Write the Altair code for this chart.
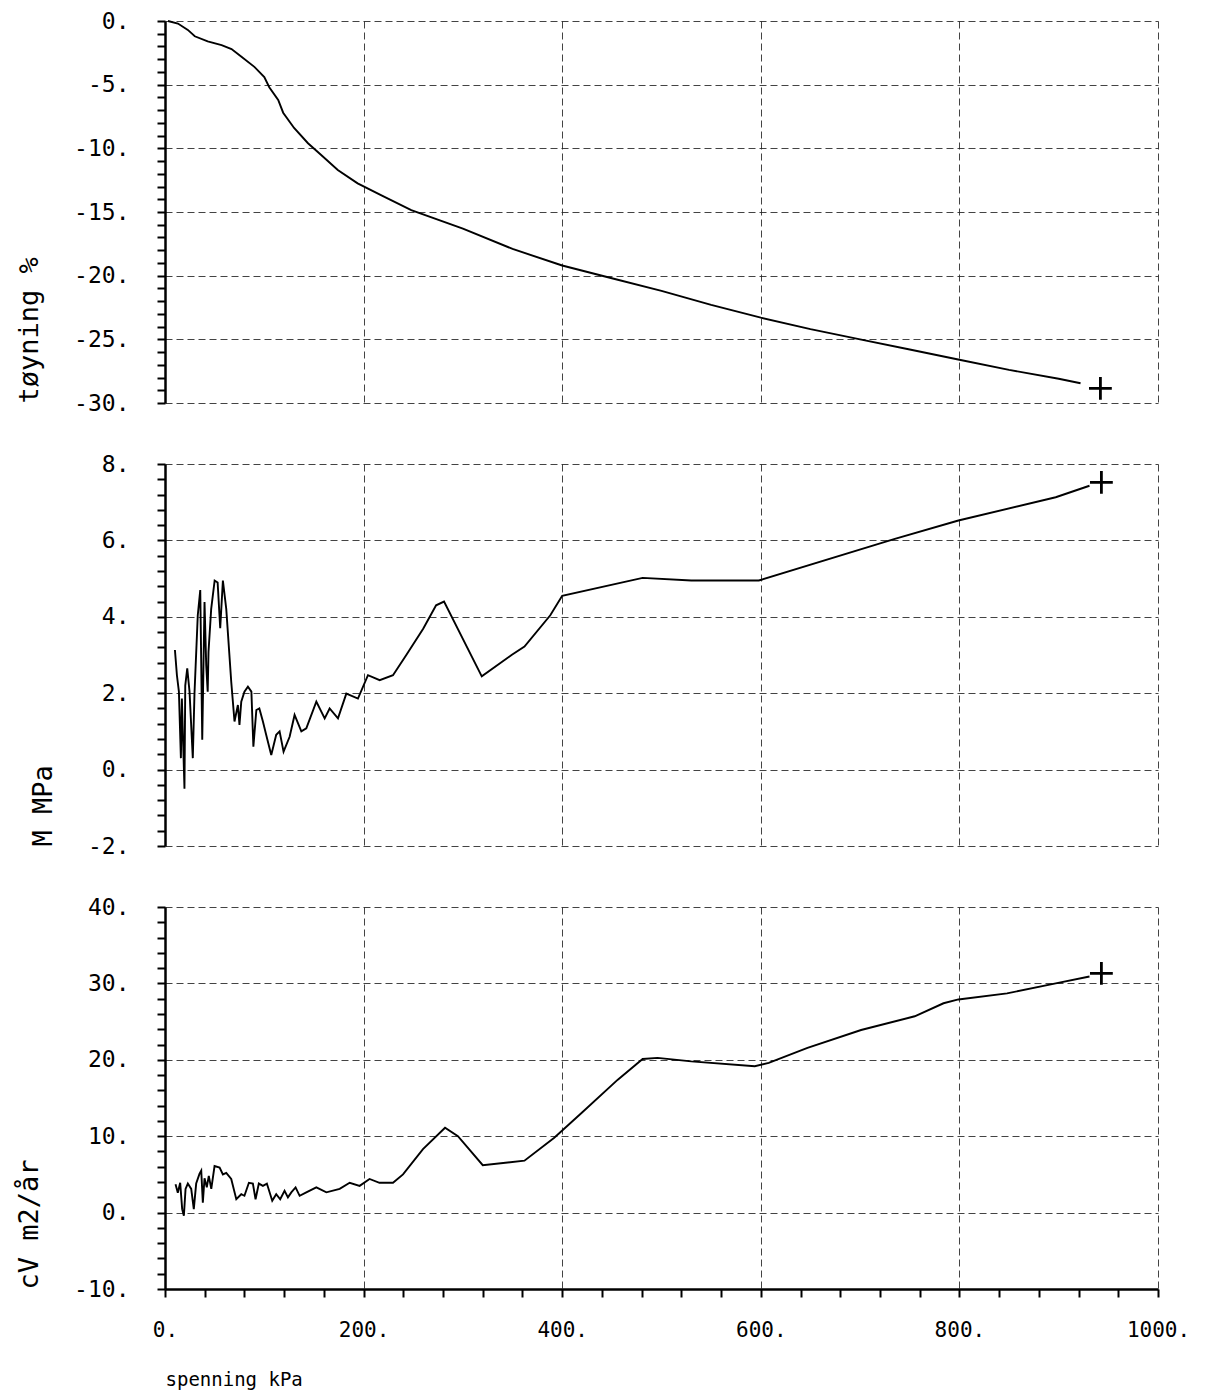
import altair as alt
import pandas as pd

# ---------------- data ----------------
strain_x = [3, 13, 23, 30, 43, 57, 67, 77, 90, 100, 105, 114, 119, 130, 144, 157, 174,
            194, 218, 248, 300, 350, 400, 450, 500, 550, 600, 650, 700, 750, 800, 850,
            900, 922]
strain_y = [0, -0.2, -0.7, -1.2, -1.6, -1.9, -2.2, -2.8, -3.6, -4.4, -5.2, -6.2, -7.2,
            -8.4, -9.6, -10.5, -11.7, -12.75, -13.7, -14.85, -16.3, -17.9, -19.2, -20.2,
            -21.2, -22.3, -23.3, -24.2, -25.0, -25.8, -26.6, -27.4, -28.1, -28.45]

m_x = [10, 12, 14, 16, 17, 19.6, 20.4, 22.4, 24.7, 28, 29.7, 33, 35.5, 37.5, 39.8, 41.5,
       43, 43.8, 46.5, 50, 53, 55.6, 58.3, 61.7, 66.7, 70, 73.4, 75, 76.8, 80, 83.5, 87,
       89, 92, 95, 98.6, 102, 107, 112, 115.4, 119.4, 125.5, 130.5, 137.3, 142.3, 152.4,
       160.8, 165.8, 174.2, 182.6, 194.3, 204.4, 216.2, 229.6, 243, 260, 273, 281, 319,
       349, 362, 388, 400, 481, 530, 598, 735, 799, 897, 931]
m_y = [3.13, 2.47, 2.04, 0.3, 1.86, -0.5, 2.2, 2.65, 2.04, 0.3, 2.0, 4.04, 4.7, 0.78,
       4.39, 2.73, 2.04, 3.08, 4.2, 4.95, 4.9, 3.7, 4.95, 4.2, 2.3, 1.26, 1.69, 1.17, 1.78,
       2.04, 2.17, 2.04, 0.6, 1.56, 1.6, 1.26, 0.9, 0.38, 0.91, 1.0, 0.47, 0.86, 1.43, 1.0,
       1.08, 1.78, 1.34, 1.6, 1.34, 1.99, 1.86, 2.47, 2.34, 2.47, 3.0, 3.69, 4.3, 4.4,
       2.44, 3.0, 3.22, 4.04, 4.55, 5.02, 4.95, 4.95, 6.04, 6.52, 7.13, 7.43]

cv_x = [10.6, 12.9, 15.3, 17.3, 19, 20.7, 23, 26.4, 29, 31.4, 34.8, 36.5, 38.1, 39.8,
        42.1, 44.1, 46.6, 49.9, 55, 58.3, 61.7, 66.7, 71.8, 76.8, 80, 84.5, 88.5, 91.2,
        94.5, 98.6, 102.6, 108, 112, 116, 120.4, 123.8, 127.2, 131.5, 135.6, 142.3,
        152.4, 162.5, 175.9, 186, 196, 206, 216, 229.6, 239.7, 259.8, 282, 295, 320, 362,
        392, 420, 456, 481, 496, 530, 594, 608, 647, 701, 755, 784, 799, 848, 897, 931]
cv_y = [3.7, 2.6, 3.9, 0.45, -0.4, 3.1, 3.8, 3.1, 0.45, 3.8, 5.1, 5.5, 1.3, 4.5, 3.3,
        4.8, 3.1, 6.1, 5.9, 5.0, 5.2, 4.4, 1.75, 2.4, 2.2, 3.9, 3.8, 1.75, 3.8, 3.5, 3.8,
        1.55, 2.4, 1.75, 2.85, 2.0, 2.65, 3.3, 2.2, 2.65, 3.3, 2.65, 3.1, 3.9, 3.5, 4.4,
        3.9, 3.9, 5.0, 8.3, 11.1, 10.0, 6.2, 6.8, 9.8, 13.1, 17.4, 20.1, 20.25, 19.8,
        19.15, 19.6, 21.55, 23.9, 25.7, 27.4, 27.9, 28.7, 30.0, 30.9]

# final-point "+" markers
end_x = [942, 943, 943]
end_y = [-28.85, 7.52, 31.3]

# axis settings
x_domain = [0, 1000]
x_major, x_minor = 200, 40
panels = [
    dict(x=strain_x, y=strain_y, title="tøyning  %", lo=-30, hi=0, major=5, minor=1),
    dict(x=m_x, y=m_y, title="M  MPa", lo=-2, hi=8, major=2, minor=0.4),
    dict(x=cv_x, y=cv_y, title="cV  m2/år", lo=-10, hi=40, major=10, minor=2),
]

FONT = "DejaVu Sans Mono"
W, H = 993, 382


def tick_values(lo, hi, step):
    n = round((hi - lo) / step)
    return [round(lo + i * step, 6) for i in range(n + 1)]


def major_test(major):
    return f"abs(datum.value/{major} - round(datum.value/{major})) < 0.000001"


def make_panel(i, p):
    df = pd.DataFrame({"x": p["x"], "y": p["y"], "i": range(len(p["x"]))})
    mk = pd.DataFrame({"x": [end_x[i]], "y": [end_y[i]]})
    t = major_test(p["major"])
    yvals = tick_values(p["lo"], p["hi"], p["minor"])
    yax = alt.Axis(
        values=yvals, tickCount=len(yvals) + 2, labelOverlap=False, labelFlush=False,
        labelExpr=f"{t} ? datum.value + '.' : ''",
        gridOpacity={"condition": {"test": t, "value": 0.85}, "value": 0},
        title=p["title"], titleAnchor="start", titleFontSize=27, titleFont=FONT,
        titleFontWeight="normal", titlePadding=30, titleColor="black",
        labelFont=FONT, labelFontSize=23, labelPadding=28, labelColor="black",
        tickSize=8, tickWidth=2, tickColor="black",
        domainColor="black", domainWidth=2.5,
        grid=True, gridDash=[7, 4], gridColor="#222", gridWidth=1,
    )
    last = i == len(panels) - 1
    if last:
        tx = major_test(x_major)
        xvals = tick_values(0, 1000, x_minor)
        xax = alt.Axis(
            values=xvals, tickCount=len(xvals) + 2, labelOverlap=False, labelFlush=False,
            labelExpr=f"{tx} ? datum.value + '.' : ''",
            gridOpacity={"condition": {"test": tx, "value": 0.85}, "value": 0},
            title="spenning kPa", titleAnchor="start", titleFontSize=19, titleFont=FONT,
            titleFontWeight="normal", titlePadding=30, titleColor="black",
            labelFont=FONT, labelFontSize=21, labelPadding=22, labelColor="black",
            tickSize=8, tickWidth=2, tickColor="black",
            domainColor="black", domainWidth=2.5,
            grid=True, gridDash=[7, 4], gridColor="#222", gridWidth=1,
        )
    else:
        xvals = tick_values(0, 1000, x_major)
        xax = alt.Axis(
            values=xvals, tickCount=len(xvals) + 2, labels=False, ticks=False,
            domain=False, title=None, grid=True, gridDash=[7, 4], gridColor="#222",
            gridWidth=1, gridOpacity=0.85,
        )
    xs = alt.Scale(domain=x_domain, nice=False, zero=False)
    ys = alt.Scale(domain=[p["lo"], p["hi"]], nice=False, zero=False)
    line = alt.Chart(df).mark_line(color="black", strokeWidth=1.9).encode(
        x=alt.X("x:Q", scale=xs, axis=xax),
        y=alt.Y("y:Q", scale=ys, axis=yax),
        order="i:Q",
    )
    plus = alt.Chart(mk).mark_point(
        shape="M-1,0L1,0M0,-1L0,1", size=520, filled=False, color="black",
        strokeWidth=2.8, opacity=1,
    ).encode(x=alt.X("x:Q", scale=xs), y=alt.Y("y:Q", scale=ys))
    return alt.layer(line, plus).properties(width=W, height=H)


chart = alt.vconcat(
    *[make_panel(i, p) for i, p in enumerate(panels)], spacing=61, bounds="flush"
).properties(
    padding={"left": 15, "top": 10, "right": 5, "bottom": 5},
    background="white",
).configure_view(stroke=None)

chart.save("out.html", embed_options={"renderer": "svg", "actions": False})
